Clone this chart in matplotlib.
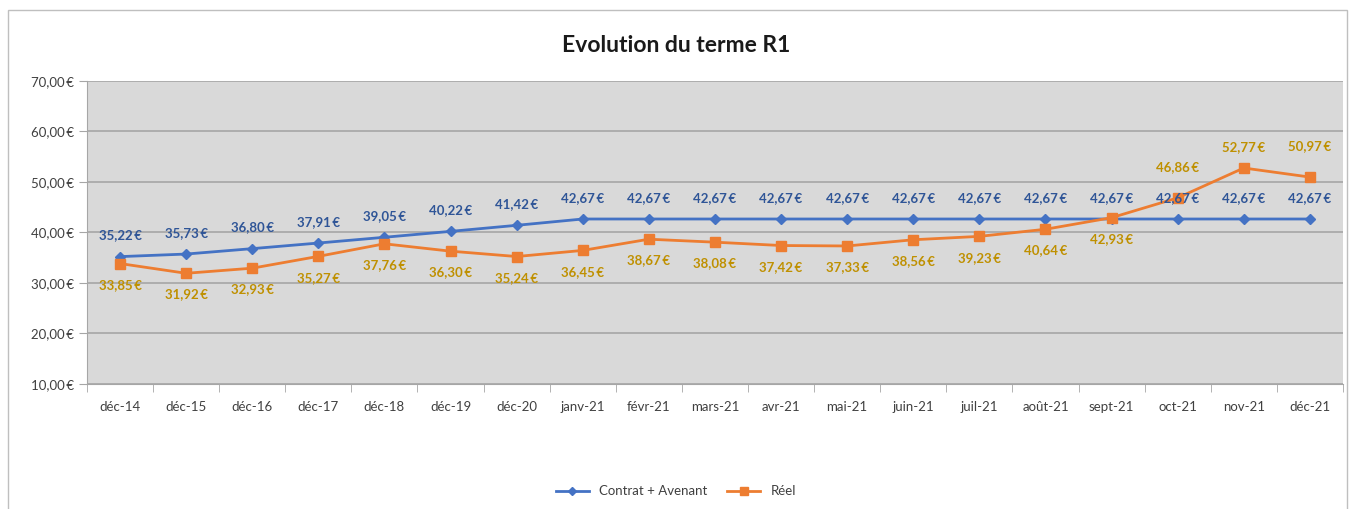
import matplotlib.pyplot as plt
import matplotlib.ticker as mtick
from matplotlib.patches import Rectangle

plt.rcParams['font.family'] = ['Lato', 'DejaVu Sans']

mois = ["déc-14", "déc-15", "déc-16", "déc-17", "déc-18", "déc-19", "déc-20",
        "janv-21", "févr-21", "mars-21", "avr-21", "mai-21", "juin-21", "juil-21",
        "août-21", "sept-21", "oct-21", "nov-21", "déc-21"]
contrat = [35.22, 35.73, 36.80, 37.91, 39.05, 40.22, 41.42, 42.67, 42.67, 42.67,
           42.67, 42.67, 42.67, 42.67, 42.67, 42.67, 42.67, 42.67, 42.67]
reel = [33.85, 31.92, 32.93, 35.27, 37.76, 36.30, 35.24, 36.45, 38.67, 38.08,
        37.42, 37.33, 38.56, 39.23, 40.64, 42.93, 46.86, 52.77, 50.97]


def fmt_eur(v):
    return f"{v:.2f}".replace(".", ",") + "\u2009€"


fig = plt.figure(figsize=(13.52, 5.09), dpi=100)
ax = fig.add_axes([0.0643, 0.2456, 0.9290, 0.5953])
ax.set_facecolor("#D9D9D9")

x = list(range(len(mois)))
ax.plot(x, contrat, color="#4472C4", lw=2, marker="D", ms=5, label="Contrat + Avenant", zorder=3)
ax.plot(x, reel, color="#ED7D31", lw=2, marker="s", ms=7, label="Réel", zorder=3)

for i, v in enumerate(contrat):
    ax.annotate(fmt_eur(v), (i, v), xytext=(0, 11), textcoords="offset points",
                ha="center", va="bottom", fontsize=9.5, fontweight="bold", color="#2F5597")
# Excel places the last three "Réel" labels above the points
offsets_haut = {16: 18, 17: 11, 18: 18}
for i, v in enumerate(reel):
    if i in offsets_haut:
        dy, va = offsets_haut[i], "bottom"
    else:
        dy, va = -11, "top"
    ax.annotate(fmt_eur(v), (i, v), xytext=(0, dy), textcoords="offset points",
                ha="center", va=va, fontsize=9.5, fontweight="bold", color="#BF9000")

ax.set_xlim(-0.5, len(mois) - 0.5)
ax.set_ylim(10, 70)
ax.set_yticks(range(10, 71, 10))
ax.yaxis.set_major_formatter(mtick.FuncFormatter(lambda v, p: f"{v:.2f}".replace(".", ",") + "\u2009€"))
ax.set_xticks(x)
ax.set_xticklabels(mois)
ax.set_xticks([i - 0.5 for i in range(len(mois) + 1)], minor=True)
ax.tick_params(axis="x", which="major", length=0, pad=12, labelsize=9.5)
ax.tick_params(axis="x", which="minor", length=6, color="#A6A6A6")
ax.tick_params(axis="y", length=6, color="#A6A6A6", labelsize=9.5, labelcolor="#404040")
ax.tick_params(axis="x", labelcolor="#404040")
ax.grid(axis="y", color="#A6A6A6", lw=1.2)
ax.set_axisbelow(True)
for s in ["top", "right"]:
    ax.spines[s].set_visible(False)
ax.spines["left"].set_color("#A6A6A6")
ax.spines["bottom"].set_color("#A6A6A6")

fig.text(0.5, 0.91, "Evolution du terme R1", ha="center", va="center",
         fontsize=16.5, fontweight="bold", color="#1A1A1A")

fig.legend(loc="center", bbox_to_anchor=(0.5, 0.035), ncol=2, frameon=False,
           fontsize=9.5, handlelength=2.5, columnspacing=1.5, labelcolor="#404040",
           markerscale=0.8)

fig.patches.append(Rectangle((0.006, -0.01), 0.99, 0.99, transform=fig.transFigure,
                             fill=False, edgecolor="#BFBFBF", lw=1))

fig.savefig("out.png", dpi=100)
